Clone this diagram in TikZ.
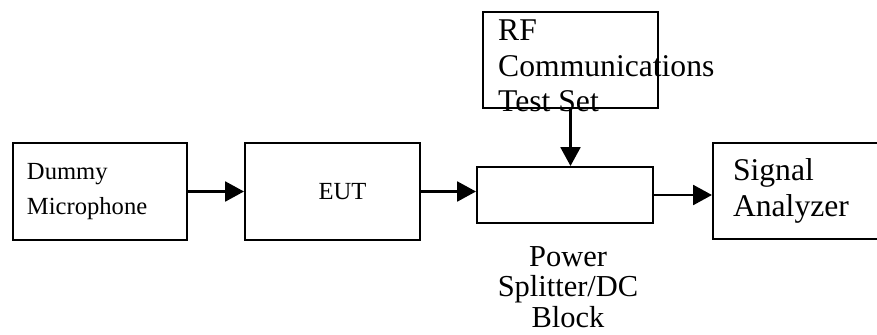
\documentclass[tikz,border=0pt]{standalone}
\usepackage{fontspec}
\setmainfont{Liberation Serif}
\usepackage{tikz}
\usetikzlibrary{arrows.meta, positioning}
\def\lw{1.8pt}
\def\smallTxt{\fontsize{21}{30}\selectfont}
\def\bigTxt{\fontsize{27}{30}\selectfont}

\begin{document}
\begin{tikzpicture}[
    x=0.03cm, y=-0.03cm,
    >={Triangle[length=16pt,width=17pt]},
    blk/.style={draw, line width=\lw, inner sep=0pt},
    flow/.style={->, line width=\lw}
]
\useasboundingbox (0,0) rectangle (877,334);
% boxes
\node[blk, minimum height=2.91cm, inner xsep=0.42cm, text width=4.38cm,
      align=left, font=\smallTxt] (mic) at (100,191.5) {Dummy\\Microphone};
\node[blk, minimum width=5.25cm, minimum height=2.91cm,
      font=\smallTxt] (eut) at (332.5,191.5) {\hspace*{0.6cm}EUT};
\node[blk, minimum width=5.28cm, minimum height=1.68cm] (split) at (565,195) {};
\node[blk, minimum width=5.25cm, minimum height=2.88cm] (rf) at (570.5,60) {};
\node[blk, minimum height=2.88cm, inner xsep=0.6cm, text width=3.96cm,
      align=left, font=\bigTxt] (sa) at (799,191) {Signal\\Analyzer};
% texts that run over their boxes
\node[anchor=north west, inner sep=0pt, align=left, font=\bigTxt]
    (rfText) at (498,20) {RF\\Communications\\Test Set};
\node[anchor=north, inner sep=0pt, align=center,
      font=\fontsize{26}{26}\selectfont]
    (splitText) at (568,246) {Power\\Splitter/DC\\Block};
% connections
\draw[flow] (mic) -- (eut);
\draw[flow] (eut) -- (eut -| split.west);
\draw[flow] (split) -- (split -| sa.west);
\draw[flow] (rf) -- (rf |- split.north);
\end{tikzpicture}
\end{document}
